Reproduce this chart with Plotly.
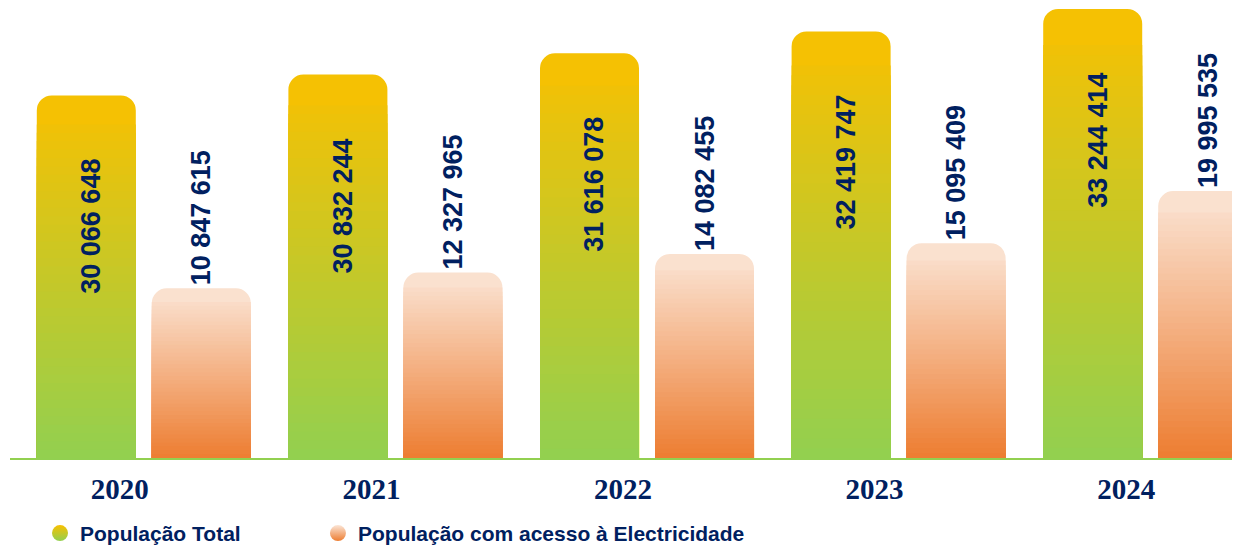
import plotly.graph_objects as go

# ---------------- data ----------------
years = ["2020", "2021", "2022", "2023", "2024"]
pop_total = [30066648, 30832244, 31616078, 32419747, 33244414]
pop_access = [10847615, 12327965, 14082455, 15095409, 19995535]
series_names = ["População Total", "População com acesso à Electricidade"]

# ---------------- style ----------------
NAVY = "#002060"
GREEN_BOTTOM, GREEN_TOP = "#92D050", "#F9C000"
ORANGE_BOTTOM, ORANGE_TOP = "#ED7D31", "#FBE5D6"
AXIS1_MIN, AXIS1_MAX = 16.74e6, 33.28e6     # decorative (non-zero) scale of the original
AXIS2_MIN, AXIS2_MAX = -5.11e6, 37.22e6
BAR_W, GAP = 0.3935, 0.0636
OFF_G = -(2 * BAR_W + GAP) / 2
OFF_O = OFF_G + BAR_W + GAP
N_STEPS = 40
FILL_FRAC = 0.92
VALUE_FONT = dict(family="Liberation Sans, Arial", size=27, color=NAVY, weight="bold")
LEGEND_FONT = dict(family="Liberation Sans, Arial", size=21, color=NAVY, weight="bold")


def hex2rgb(h):
    h = h.lstrip("#")
    return tuple(int(h[i:i + 2], 16) for i in (0, 2, 4))


def lerp(c0, c1, t):
    a, b = hex2rgb(c0), hex2rgb(c1)
    return "rgb({},{},{})".format(*[round(a[k] + (b[k] - a[k]) * t) for k in range(3)])


def fmt(v):
    return f"{v:,}".replace(",", " ")


fig = go.Figure()


def add_gradient_bars(values, base, offset, c_bottom, c_top, yaxis, text=None):
    # full bar with rounded top
    fig.add_trace(go.Bar(
        x=years, y=[v - base for v in values], base=base, width=BAR_W, offset=offset,
        marker=dict(color=lerp(c_bottom, c_top, 0.96), cornerradius=15, line=dict(width=0)),
        yaxis=yaxis, showlegend=False, hoverinfo="skip",
        text=text, textposition="outside" if text else None, textangle=-90,
        textfont=VALUE_FONT, constraintext="none", cliponaxis=False,
    ))
    # gradient layers, tallest first
    for j in reversed(range(N_STEPS)):
        frac = (j + 1) / N_STEPS * FILL_FRAC
        t = (j + 0.5) / N_STEPS * FILL_FRAC
        fig.add_trace(go.Bar(
            x=years, y=[(v - base) * frac for v in values], base=base, width=BAR_W, offset=offset,
            marker=dict(color=lerp(c_bottom, c_top, t), line=dict(width=0)),
            yaxis=yaxis, showlegend=False, hoverinfo="skip",
        ))


add_gradient_bars(pop_total, AXIS1_MIN, OFF_G, GREEN_BOTTOM, GREEN_TOP, "y")
add_gradient_bars(pop_access, AXIS2_MIN, OFF_O, ORANGE_BOTTOM, ORANGE_TOP, "y2",
                  text=[fmt(v) for v in pop_access])

# value labels inside the total bars
for i, v in enumerate(pop_total):
    fig.add_annotation(
        x=i + OFF_G + BAR_W / 2, y=v, xref="x", yref="y",
        text=fmt(v), textangle=-90, showarrow=False,
        xanchor="center", yanchor="middle", xshift=5, yshift=-131,
        font=VALUE_FONT,
    )

# legend entries (one legend each, to place them like the original)
fig.add_trace(go.Scatter(
    x=[None], y=[None], mode="markers", name=series_names[0], legend="legend",
    marker=dict(symbol="circle", size=16, color=GREEN_TOP,
                gradient=dict(type="vertical", color=GREEN_BOTTOM)),
))
fig.add_trace(go.Scatter(
    x=[None], y=[None], mode="markers", name=series_names[1], legend="legend2",
    marker=dict(symbol="circle", size=16, color=ORANGE_TOP,
                gradient=dict(type="vertical", color=ORANGE_BOTTOM)),
))

fig.update_layout(
    width=1232, height=541,
    margin=dict(l=2, r=5, t=0, b=91, autoexpand=False),
    paper_bgcolor="white", plot_bgcolor="white",
    barmode="overlay",
    showlegend=True,
    legend=dict(orientation="h", x=0.0245, xanchor="left", y=-0.122, yanchor="top",
                font=LEGEND_FONT, itemclick=False, bgcolor="rgba(0,0,0,0)"),
    legend2=dict(orientation="h", x=0.2514, xanchor="left", y=-0.122, yanchor="top",
                 font=LEGEND_FONT, itemclick=False, bgcolor="rgba(0,0,0,0)"),
    xaxis=dict(
        type="category", range=[-0.5318, 4.337], automargin=False,
        showline=True, linecolor=GREEN_BOTTOM, linewidth=2,
        showgrid=False, zeroline=False, ticks="",
        tickfont=dict(family="Liberation Serif, Times New Roman", size=29, color=NAVY, weight="bold"),
        ticklabelshift=-24, ticklabelstandoff=4,
    ),
    yaxis=dict(range=[AXIS1_MIN, AXIS1_MAX], visible=False, showgrid=False, zeroline=False,
               automargin=False),
    yaxis2=dict(range=[AXIS2_MIN, AXIS2_MAX], visible=False, showgrid=False, zeroline=False,
                overlaying="y", side="right", automargin=False),
)

fig.write_html("out.html")
